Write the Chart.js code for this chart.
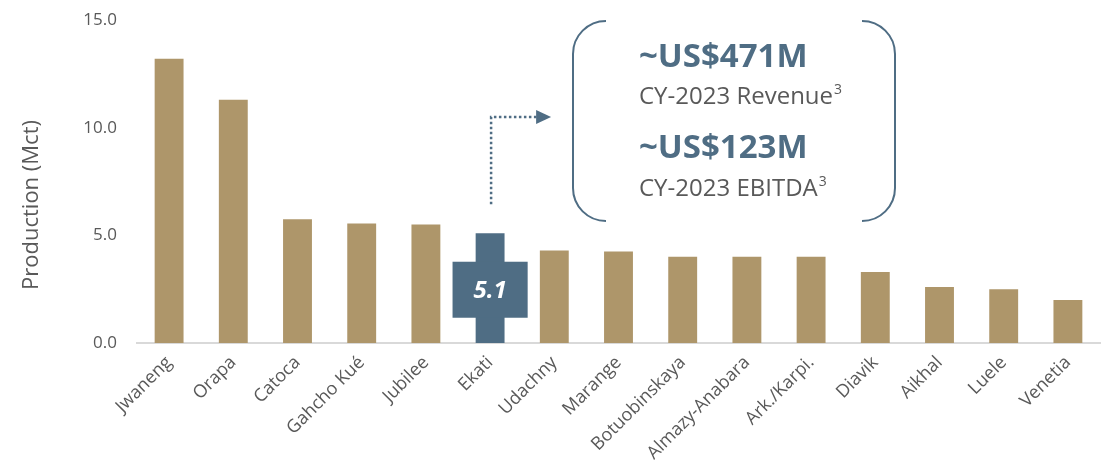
<!DOCTYPE html>
<html>
<head>
<meta charset="utf-8">
<script src="https://cdn.jsdelivr.net/npm/chart.js@4.4.1/dist/chart.umd.min.js"></script>
<style>
  html, body { margin: 0; padding: 0; background: #ffffff; }
  #wrap { position: relative; width: 1107px; height: 468px; }
</style>
</head>
<body>
<div id="wrap"><canvas id="productionChart" width="1107" height="468"></canvas></div>
<script>
// Mine production, Mct
const mines = ['Jwaneng', 'Orapa', 'Catoca', 'Gahcho Kué', 'Jubilee', 'Ekati', 'Udachny', 'Marange',
               'Botuobinskaya', 'Almazy-Anabara', 'Ark./Karpi.', 'Diavik', 'Aikhal', 'Luele', 'Venetia'];
const production = [13.2, 11.3, 5.75, 5.55, 5.5, 5.1, 4.3, 4.25, 4.0, 4.0, 4.0, 3.3, 2.6, 2.5, 2.0];
const highlightMine = 'Ekati';
const yTickValues = [0, 5, 10, 15];
const yTitle = 'Production (Mct)';
const calloutLines = [
    { text: '~US$471M', sup: '', bold: true },
    { text: 'CY-2023 Revenue', sup: '3', bold: false },
    { text: '~US$123M', sup: '', bold: true },
    { text: 'CY-2023 EBITDA', sup: '3', bold: false }
];

const tan = '#AE966A';
const slate = '#4F6D84';
const grey = '#595959';

Chart.defaults.font.family = '"Open Sans", sans-serif';
Chart.defaults.color = grey;

// draws the Ekati cross, the dotted arrow, the bracket box and the y title
const calloutPlugin = {
    id: 'callout',
    afterDatasetsDraw(chart) {
        const ctx = chart.ctx;
        const idx = mines.indexOf(highlightMine);
        const bar = chart.getDatasetMeta(0).data[idx];
        const top = bar.y, base = bar.base, h = base - top;

        // wide middle piece of the cross
        const crossW = bar.width * 2.6;
        const crossTop = top + h * 0.26;
        const crossBot = top + h * 0.77;
        ctx.save();
        ctx.fillStyle = slate;
        ctx.fillRect(bar.x - crossW / 2, crossTop, crossW, crossBot - crossTop);

        ctx.fillStyle = '#ffffff';
        ctx.font = 'italic bold 24px "Open Sans", sans-serif';
        ctx.textAlign = 'center';
        ctx.textBaseline = 'middle';
        ctx.fillText(production[idx].toFixed(1), bar.x, (crossTop + crossBot) / 2 + 1);

        // dotted arrow
        const ax = bar.x + 1;
        const ayBottom = top - 29;
        const ayTop = 117;
        const arrowEnd = ax + 60;
        ctx.strokeStyle = slate;
        ctx.lineWidth = 2.5;
        ctx.setLineDash([2.5, 2.5]);
        ctx.beginPath();
        ctx.moveTo(ax, ayBottom);
        ctx.lineTo(ax, ayTop);
        ctx.lineTo(arrowEnd - 14, ayTop);
        ctx.stroke();
        ctx.setLineDash([]);
        ctx.fillStyle = slate;
        ctx.beginPath();
        ctx.moveTo(arrowEnd, ayTop);
        ctx.lineTo(arrowEnd - 15, ayTop - 7);
        ctx.lineTo(arrowEnd - 15, ayTop + 7);
        ctx.closePath();
        ctx.fill();

        // bracket box
        const bl = 573, br = 895, bt = 21, bb = 221, r = 33;
        ctx.lineWidth = 2;
        ctx.strokeStyle = slate;
        ctx.beginPath();
        ctx.moveTo(bl + r, bt);
        ctx.arcTo(bl, bt, bl, bt + r, r);
        ctx.lineTo(bl, bb - r);
        ctx.arcTo(bl, bb, bl + r, bb, r);
        ctx.stroke();
        ctx.beginPath();
        ctx.moveTo(br - r, bt);
        ctx.arcTo(br, bt, br, bt + r, r);
        ctx.lineTo(br, bb - r);
        ctx.arcTo(br, bb, br - r, bb, r);
        ctx.stroke();

        // callout text
        const baselines = [67, 104, 158, 196];
        ctx.textAlign = 'left';
        ctx.textBaseline = 'alphabetic';
        calloutLines.forEach((line, i) => {
            ctx.font = line.bold ? 'bold 33px "Open Sans", sans-serif' : '24px "Open Sans", sans-serif';
            ctx.fillStyle = line.bold ? slate : grey;
            ctx.fillText(line.text, 639, baselines[i]);
            if (line.sup) {
                const w = ctx.measureText(line.text).width;
                ctx.font = '14px "Open Sans", sans-serif';
                ctx.fillText(line.sup, 639 + w + 1, baselines[i] - 10);
            }
        });

        // y axis title
        ctx.save();
        ctx.translate(32, 205);
        ctx.rotate(-Math.PI / 2);
        ctx.font = '22px "Open Sans", sans-serif';
        ctx.fillStyle = grey;
        ctx.textAlign = 'center';
        ctx.textBaseline = 'middle';
        ctx.fillText(yTitle, 0, 0);
        ctx.restore();

        ctx.restore();
    }
};

const ctx = document.getElementById('productionChart').getContext('2d');
const productionChart = new Chart(ctx, {
    type: 'bar',
    data: {
        labels: mines,
        datasets: [{
            label: yTitle,
            data: production,
            backgroundColor: mines.map(m => m === highlightMine ? slate : tan),
            barPercentage: 0.45,
            categoryPercentage: 1.0,
            borderWidth: 0
        }]
    },
    options: {
        responsive: false,
        animation: false,
        layout: { padding: { top: 20, right: 7, left: 0, bottom: 0 } },
        plugins: {
            legend: { display: false },
            tooltip: { enabled: false }
        },
        scales: {
            x: {
                grid: { display: false, drawTicks: false },
                border: { display: true, color: '#d9d9d9', width: 2 },
                ticks: {
                    maxRotation: 45,
                    minRotation: 45,
                    autoSkip: false,
                    padding: 9,
                    color: grey,
                    font: { size: 18 }
                },
                afterFit: scale => { scale.height = 125; }
            },
            y: {
                min: 0,
                max: 15,
                grid: { display: false, drawTicks: false },
                border: { display: false },
                afterBuildTicks: scale => { scale.ticks = yTickValues.map(v => ({ value: v })); },
                ticks: {
                    padding: 20,
                    color: grey,
                    font: { size: 17 },
                    callback: v => Number(v).toFixed(1)
                },
                afterFit: scale => {
                    scale.width = 137;
                    scale.paddingTop = 10;
                    scale.paddingBottom = 10;
                }
            }
        }
    },
    plugins: [calloutPlugin]
});
</script>
</body>
</html>
